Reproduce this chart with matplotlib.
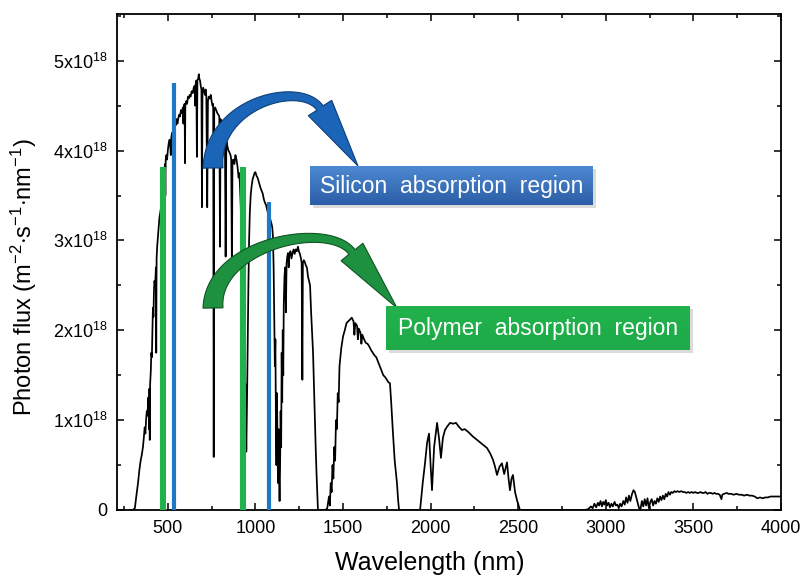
import numpy as np
import matplotlib
matplotlib.use("Agg")
import matplotlib.pyplot as plt
from matplotlib.patches import Polygon
from matplotlib.ticker import MultipleLocator

plt.rcParams['font.family'] = ['Liberation Sans', 'DejaVu Sans']
plt.rcParams['mathtext.fontset'] = 'custom'
plt.rcParams['mathtext.rm'] = 'Liberation Sans'
plt.rcParams['mathtext.it'] = 'Liberation Sans:italic'
plt.rcParams['mathtext.bf'] = 'Liberation Sans:bold'

# ---------------- data ----------------
# solar photon flux spectrum, flux in units of 1e18 m^-2 s^-1 nm^-1
wavelength_nm = [
    280, 300, 312, 320, 330, 338, 345, 352, 358, 363, 368, 372, 376, 380, 384, 388,
    391, 393, 395, 397, 399, 403, 406, 409, 412, 415, 418, 421, 424, 427, 430, 432,
    434, 436, 440, 444, 448, 452, 456, 460, 464, 468, 472, 476, 480, 484, 486, 488,
    492, 496, 500, 505, 510, 514, 517, 520, 525, 530, 535, 540, 545, 550, 555, 560,
    565, 570, 575, 580, 586, 589, 592, 596, 598, 600, 605, 610, 615, 620, 625, 630,
    636, 642, 648, 653, 656, 659, 663, 666, 669, 673, 677, 680, 684, 688, 692, 695,
    698, 702, 707, 712, 716, 720, 725, 729, 734, 740, 745, 750, 755, 759, 762, 765,
    770, 776, 782, 788, 794, 798, 801, 806, 812, 818, 822, 826, 830, 834, 840, 846,
    852, 858, 862, 866, 869, 874, 880, 886, 892, 898, 904, 908, 912, 916, 920, 924,
    928, 932, 936, 940, 944, 948, 952, 956, 960, 964, 968, 973, 978, 984, 990, 995,
    1000, 1006, 1012, 1018, 1024, 1030, 1036, 1042, 1048, 1054, 1060, 1066, 1072, 1078, 1084, 1090,
    1096, 1100, 1104, 1108, 1111, 1114, 1117, 1120, 1123, 1126, 1129, 1132, 1135, 1138, 1141, 1144,
    1147, 1150, 1153, 1156, 1159, 1162, 1166, 1170, 1174, 1178, 1182, 1186, 1190, 1194, 1200, 1206,
    1212, 1218, 1224, 1230, 1236, 1243, 1248, 1254, 1260, 1264, 1268, 1271, 1276, 1282, 1288, 1294,
    1300, 1306, 1312, 1318, 1324, 1329, 1334, 1339, 1344, 1349, 1353, 1357, 1400, 1410, 1420, 1425,
    1430, 1435, 1440, 1445, 1450, 1455, 1460, 1465, 1470, 1475, 1480, 1490, 1500, 1510, 1520, 1530,
    1540, 1550, 1560, 1565, 1570, 1580, 1585, 1590, 1600, 1605, 1610, 1620, 1630, 1640, 1650, 1660,
    1670, 1680, 1690, 1700, 1710, 1720, 1730, 1740, 1750, 1760, 1768, 1775, 1785, 1795, 1808, 1815,
    1820, 1940, 1955, 1968, 1980, 1991, 2000, 2008, 2020, 2037, 2048, 2059, 2070, 2082, 2095, 2111,
    2128, 2145, 2160, 2179, 2195, 2214, 2240, 2265, 2290, 2322, 2340, 2356, 2368, 2379, 2393, 2407,
    2420, 2436, 2445, 2453, 2462, 2470, 2482, 2493, 2510, 2880, 2900, 2915, 2925, 2935, 2945, 2955,
    2962, 2970, 2978, 2985, 2992, 3000, 3008, 3016, 3024, 3032, 3040, 3050, 3058, 3066, 3074, 3082,
    3090, 3100, 3108, 3116, 3124, 3132, 3140, 3150, 3158, 3166, 3174, 3182, 3190, 3198, 3206, 3214,
    3222, 3230, 3238, 3246, 3254, 3262, 3270, 3278, 3286, 3294, 3302, 3310, 3318, 3326, 3334, 3342,
    3350, 3358, 3366, 3374, 3382, 3392, 3400, 3410, 3420, 3430, 3440, 3450, 3460, 3470, 3480, 3490,
    3500, 3510, 3520, 3530, 3540, 3550, 3560, 3570, 3580, 3590, 3600, 3610, 3620, 3630, 3640, 3650,
    3660, 3665, 3675, 3690, 3700, 3715, 3730, 3745, 3760, 3775, 3790, 3805, 3820, 3835, 3850, 3865,
    3880, 3895, 3910, 3925, 3940, 3960, 3980, 4000,
]
photon_flux_1e18 = [
    0.0, 0.0, 0.02, 0.15, 0.3, 0.45, 0.55, 0.62, 0.7, 0.8, 0.92, 0.85, 1.0, 1.1, 1.05, 1.25,
    1.2, 0.9, 1.35, 0.78, 1.4, 1.55, 1.75, 1.7, 2.0, 2.25, 2.15, 2.45, 2.55, 2.5, 2.6, 2.7,
    1.75, 2.8, 2.95, 3.05, 3.15, 3.25, 3.3, 3.35, 3.45, 3.55, 3.6, 3.7, 3.78, 3.85, 3.5, 3.9,
    3.95, 3.9, 4.0, 4.08, 4.12, 4.05, 3.95, 4.15, 4.2, 4.18, 4.25, 4.3, 4.28, 4.35, 4.3, 4.36,
    4.4, 4.38, 4.45, 4.42, 4.48, 4.3, 4.5, 4.52, 3.86, 4.5, 4.55, 4.52, 4.6, 4.58, 4.62, 4.6,
    4.66, 4.64, 4.7, 4.72, 4.5, 4.74, 4.78, 3.93, 4.78, 4.8, 4.85, 4.8, 4.78, 4.72, 4.68, 3.37,
    4.65, 4.7, 4.66, 4.62, 4.68, 4.6, 3.37, 4.55, 4.6, 4.58, 4.62, 4.55, 4.5, 4.52, 0.59, 4.45,
    4.48, 4.45, 4.42, 4.4, 4.38, 2.93, 4.35, 4.3, 4.25, 4.2, 4.15, 4.12, 2.82, 4.12, 4.05, 4.0,
    3.98, 3.95, 3.9, 2.6, 3.88, 3.9, 3.85, 3.95, 3.9, 3.82, 3.7, 3.75, 3.6, 3.4, 3.1, 2.5,
    1.9, 1.5, 1.1, 0.95, 1.4, 0.65, 1.2, 1.9, 2.5, 3.0, 3.3, 3.5, 3.6, 3.68, 3.72, 3.75,
    3.76, 3.72, 3.7, 3.66, 3.62, 3.58, 3.55, 3.52, 3.46, 3.42, 3.4, 3.35, 3.3, 3.26, 3.24, 3.2,
    3.15, 3.05, 2.7, 2.1, 1.6, 1.9, 1.0, 0.5, 1.3, 0.8, 0.3, 0.9, 0.4, 0.1, 0.5, 1.1,
    0.7, 1.75, 1.2, 2.0, 1.5, 2.3, 2.6, 2.7, 2.2, 2.75, 2.82, 2.86, 2.7, 2.84, 2.88, 2.8,
    2.86, 2.9, 2.85, 2.9, 2.88, 2.93, 2.88, 2.85, 2.8, 2.75, 1.45, 2.75, 2.78, 2.76, 2.72, 2.7,
    2.6, 2.55, 2.5, 2.2, 1.95, 1.75, 1.4, 1.05, 0.7, 0.4, 0.2, 0.0, 0.0, 0.02, 0.15, 0.05,
    0.3, 0.2, 0.5, 0.35, 0.7, 0.55, 1.0, 0.9, 1.3, 1.2, 1.6, 1.8, 1.93, 2.0, 2.08, 2.1,
    2.12, 2.14, 2.1, 1.95, 2.08, 2.05, 1.9, 2.02, 1.97, 1.85, 1.95, 1.9, 1.86, 1.85, 1.82, 1.78,
    1.75, 1.72, 1.7, 1.65, 1.6, 1.55, 1.5, 1.48, 1.45, 1.42, 1.41, 1.2, 0.86, 0.55, 0.3, 0.1,
    0.0, 0.0, 0.3, 0.52, 0.75, 0.85, 0.5, 0.22, 0.7, 0.97, 0.8, 0.58, 0.8, 0.89, 0.93, 0.97,
    0.96, 0.97, 0.93, 0.89, 0.9, 0.87, 0.82, 0.78, 0.74, 0.69, 0.63, 0.56, 0.48, 0.39, 0.48, 0.52,
    0.4, 0.53, 0.35, 0.22, 0.35, 0.39, 0.2, 0.11, 0.0, 0.0, 0.01, 0.04, 0.02, 0.07, 0.03, 0.08,
    0.05, 0.1, 0.04, 0.09, 0.06, 0.11, 0.05, 0.08, 0.03, 0.07, 0.04, 0.09, 0.05, 0.06, 0.02, 0.07,
    0.04, 0.1, 0.06, 0.14, 0.08, 0.16, 0.1, 0.18, 0.22, 0.2, 0.14, 0.08, 0.02, 0.01, 0.1, 0.04,
    0.12, 0.05, 0.13, 0.02, 0.09, 0.12, 0.05, 0.1, 0.07, 0.13, 0.09, 0.15, 0.11, 0.16, 0.12, 0.18,
    0.15, 0.2, 0.17, 0.2, 0.19, 0.21, 0.2, 0.21, 0.2, 0.21, 0.2, 0.2, 0.19, 0.2, 0.19, 0.2,
    0.19, 0.2, 0.19, 0.19, 0.2, 0.19, 0.19, 0.2, 0.18, 0.19, 0.19, 0.18, 0.19, 0.18, 0.18, 0.17,
    0.12, 0.17, 0.18, 0.19, 0.18, 0.18, 0.17, 0.18, 0.17, 0.17, 0.16, 0.17, 0.16, 0.16, 0.15, 0.13,
    0.14, 0.13, 0.14, 0.14, 0.15, 0.15, 0.15, 0.15,
]

x_ticks = [500, 1000, 1500, 2000, 2500, 3000, 3500, 4000]
x_tick_labels = ['500', '1000', '1500', '2000', '2500', '3000', '3500', '4000']
y_ticks_1e18 = [0, 1, 2, 3, 4, 5]
y_tick_labels = ['0', '1x10$^{18}$', '2x10$^{18}$', '3x10$^{18}$', '4x10$^{18}$', '5x10$^{18}$']

# absorption band edges (wavelength, top of marker)
polymer_band_nm = [470, 930]
polymer_band_top_1e18 = [3.82, 3.82]
silicon_band_nm = [535, 1075]
silicon_band_top_1e18 = [4.75, 3.43]

# ---------------- figure ----------------
W, H = 804, 584
fig = plt.figure(figsize=(W / 100, H / 100), dpi=100)
fig.patch.set_facecolor('white')


def fx(px):
    return px / W


def fy(py):
    return 1 - py / H


ax = fig.add_axes([fx(117), fy(510), (781 - 117) / W, (510 - 14) / H])
scale = 1e18

ax.plot(np.asarray(wavelength_nm), np.asarray(photon_flux_1e18) * scale,
        color='black', lw=1.25, zorder=2)
ax.vlines(polymer_band_nm, 0, np.asarray(polymer_band_top_1e18) * scale,
          colors='#22b14c', lw=4.4, zorder=3)
ax.vlines(silicon_band_nm, 0, np.asarray(silicon_band_top_1e18) * scale,
          colors='#1f78c6', lw=3.0, zorder=3)

ax.set_xlim(210, 4000)
ax.set_ylim(0, 5.52 * scale)
ax.set_xticks(x_ticks)
ax.set_xticklabels(x_tick_labels)
ax.set_yticks([v * scale for v in y_ticks_1e18])
ax.set_yticklabels(y_tick_labels)
ax.xaxis.set_minor_locator(MultipleLocator(250))
ax.yaxis.set_minor_locator(MultipleLocator(0.5 * scale))
ax.tick_params(which='both', direction='in', top=True, right=True,
               width=1.1, colors='black', labelsize=13, pad=7)
ax.tick_params(which='major', length=5)
ax.tick_params(which='minor', length=3)
for sp in ax.spines.values():
    sp.set_linewidth(1.3)

ax.set_xlabel('Wavelength (nm)', fontsize=18)
ax.xaxis.set_label_coords((430 - 117) / 664, -0.083)
ax.set_ylabel('Photon flux (m$^{-2}$$\\cdot$s$^{-1}$$\\cdot$nm$^{-1}$)', fontsize=17)
ax.yaxis.set_label_coords(-0.118, 0.47)


# ---------------- curved arrows ----------------
def curved_arrow(ctrl, half_tail, half_end, half_head, tip, face, edge):
    P = np.asarray(ctrl, float)
    t = np.linspace(0, 1, 80)[:, None]
    B = ((1 - t) ** 3) * P[0] + 3 * (1 - t) ** 2 * t * P[1] + 3 * (1 - t) * t ** 2 * P[2] + t ** 3 * P[3]
    D = 3 * (1 - t) ** 2 * (P[1] - P[0]) + 6 * (1 - t) * t * (P[2] - P[1]) + 3 * t ** 2 * (P[3] - P[2])
    D = D / np.linalg.norm(D, axis=1, keepdims=True)
    N = np.column_stack([-D[:, 1], D[:, 0]])
    hw = half_end + (half_tail - half_end) * (1 - t) ** 1.8
    side_a = B + N * hw
    side_b = B - N * hw
    tip = np.asarray(tip, float)
    d = tip - P[3]
    d = d / np.linalg.norm(d)
    n = np.array([-d[1], d[0]])
    head = [P[3] + n * half_head, tip, P[3] - n * half_head]
    pts = np.vstack([side_a, head, side_b[::-1]])
    pts_fig = np.column_stack([fx(pts[:, 0]), fy(pts[:, 1])])
    poly = Polygon(pts_fig, closed=True, facecolor=face, edgecolor=edge,
                   lw=0.8, transform=fig.transFigure, zorder=4)
    fig.add_artist(poly)


curved_arrow([(213, 168), (212, 103), (300, 80), (320, 108)], 10, 3.8, 14,
             (358, 166), '#1a65b8', '#0e3f78')
curved_arrow([(213, 308), (212, 244), (328, 220), (352, 252)], 10, 3.8, 14,
             (397, 308), '#1d9140', '#0f5424')


# ---------------- text boxes ----------------
def label_box(x0, y0, x1, y1, top, bottom, text, size):
    # soft shadow
    sh = fig.add_axes([fx(x0 + 3), fy(y1 + 3), (x1 - x0) / W, (y1 - y0) / H], zorder=5)
    sh.set_facecolor('#b8b8b8')
    sh.patch.set_alpha(0.5)
    sh.set_xticks([]); sh.set_yticks([])
    for s in sh.spines.values():
        s.set_visible(False)
    bx = fig.add_axes([fx(x0), fy(y1), (x1 - x0) / W, (y1 - y0) / H], zorder=6)
    c0 = np.array(matplotlib.colors.to_rgb(top))
    c1 = np.array(matplotlib.colors.to_rgb(bottom))
    g = np.linspace(0, 1, 64)[:, None, None]
    img = c0 * (1 - g) + c1 * g
    bx.imshow(img, aspect='auto', extent=[0, 1, 0, 1], origin='upper')
    bx.set_xlim(0, 1); bx.set_ylim(0, 1)
    bx.set_xticks([]); bx.set_yticks([])
    for s in bx.spines.values():
        s.set_visible(False)
    bx.text(0.5, 0.48, text, ha='center', va='center', color='white',
            fontsize=size, transform=bx.transAxes)


label_box(310, 166, 593, 205, '#4d89d2', '#2b5ea6', 'Silicon  absorption  region', 16.5)
label_box(386, 306, 690, 350, '#21b24d', '#1eaa48', 'Polymer  absorption  region', 16.5)

fig.savefig('out.png', dpi=100, facecolor='white')
